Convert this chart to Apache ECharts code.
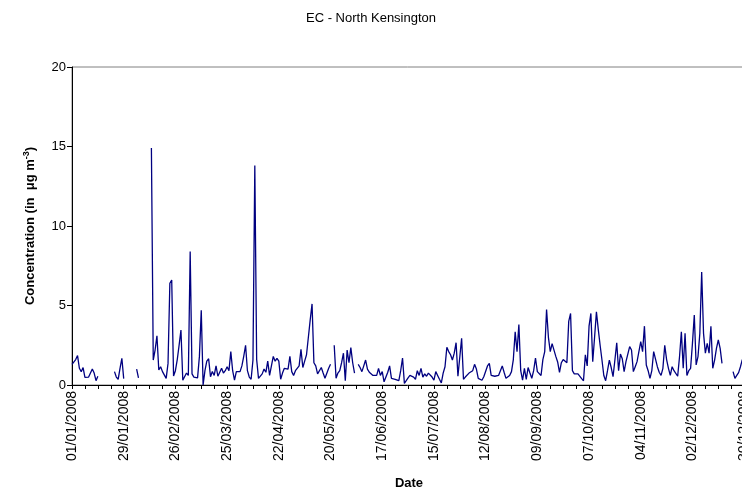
<!DOCTYPE html>
<html>
<head>
<meta charset="utf-8">
<script src="https://cdn.jsdelivr.net/npm/echarts@6/dist/echarts.min.js"></script>
<style>html,body{margin:0;padding:0;background:#fff;}#c{width:742px;height:491px;}</style>
</head>
<body>
<div id="c"></div>
<script>
// Daily EC concentration, 01/01/2008 .. 31/12/2008 (null = no data)
var startDate = [2008, 0, 1];
var dayCount = 366;
var ecValues = [
1.3,1.4,1.6,1.85,1.05,0.84,1.1,0.48,0.55,0.5,0.6,1.0,0.75,0.27,0.55,
null,null,null,null,null,null,null,null,
0.84,0.5,0.36,1.05,1.68,0.4,
null,null,null,null,null,null,
1.0,0.45,
null,null,null,null,null,null,
14.9,1.57,2.2,3.1,0.94,1.15,0.84,0.94,0.42,1.36,6.4,6.6,0.57,0.9,1.6,2.5,3.46,0.3,0.2,0.75,0.6,8.4,
0.7,0.5,0.5,0.45,1.8,4.7,0,0.9,1.5,1.65,0.52,0.85,0.6,1.2,0.55,0.5,1.05,0.75,0.9,1.15,0.9,2.1,0.9,0.3,0.84,
0.9,0.84,1.2,1.8,2.5,0.9,0.5,0.36,1.57,13.8,1.6,0.42,0.5,0.7,1.0,0.8,1.5,0.6,1.2,1.8,1.5,1.68,1.5,0.36,
0.75,1.05,1.0,1.0,1.8,0.84,0.6,0.9,1.0,1.2,2.24,1.1,1.5,1.9,3.0,4.1,5.1,1.4,1.2,0.7,0.75,1.1,0.75,0.42,0.5,1.05,1.3,
null,
2.5,0.42,0.75,0.9,1.4,2.0,0.27,2.2,1.4,2.35,1.4,0.75,
null,
1.3,1.1,0.84,1.2,1.57,1.0,0.8,0.84,0.6,0.5,0.6,1.05,0.6,0.84,0.2,0.5,0.8,1.2,0.42,0.5,0.36,0.4,0.27,0.9,1.7,
0.1,0.27,0.45,0.6,0.55,0.5,0.36,0.9,0.6,1.05,0.5,0.7,0.55,0.75,0.65,0.5,0.3,0.84,0.6,0.36,0.13,0.75,1.15,
2.37,2.1,1.9,1.57,2.0,2.66,0.55,0.55,2.94,0.36,0.5,0.6,0.75,0.85,0.9,1.3,1.0,0.42,0.35,0.3,0.52,0.6,
1.2,1.36,0.6,0.5,0.55,0.55,0.6,0.5,1.2,0.8,0.42,0.5,0.6,0.84,1.6,3.35,2.1,3.8,0.9,0.3,1.05,0.35,1.1,0.75,0.42,0.9,
1.7,0.84,0.8,0.6,1.6,2.1,4.75,3.0,2.1,2.6,2.7,1.8,1.45,0.8,1.4,1.6,1.7,1.4,4.0,4.5,0.9,
0.7,0.6,0.7,0.7,0.4,0.27,1.9,1.2,3.7,4.5,1.47,3.0,4.6,3.5,2.5,1.57,0.6,0.27,0.9,1.57,1.1,0.52,1.57,2.66,0.9,
1.95,1.65,0.84,1.47,1.57,2.41,2.2,0.84,1.15,1.47,1.57,2.73,2.1,3.7,1.26,0.9,0.42,0.9,
2.1,2.0,1.15,0.8,0.6,1.05,2.5,1.6,1.05,0.6,1.15,0.9,0.84,0.55,1.78,3.35,1.05,3.25,0.6,0.9,1.05,2.62,4.4,1.26,
1.78,3.25,7.1,3.25,2.0,2.62,2.0,3.7,1.05,1.57,2.3,2.83,2.3,1.36,
null,null,null,null,null,
0.84,0.42,0.6,0.78,1.15,1.6,1.7,1.6
];
var yTicks = [0, 5, 10, 15, 20];

function pad(n){ return (n < 10 ? '0' : '') + n; }
var dates = [];
for (var i = 0; i < dayCount; i++) {
  var d = new Date(startDate[0], startDate[1], startDate[2] + i);
  dates.push(pad(d.getDate()) + '/' + pad(d.getMonth() + 1) + '/' + d.getFullYear());
}

var FONT = '"Liberation Sans", Arial, sans-serif';
var chart = echarts.init(document.getElementById('c'), null, {renderer: 'canvas'});
chart.setOption({
  animation: false,
  backgroundColor: '#fff',
  title: {
    text: 'EC - North Kensington',
    left: 'center',
    top: 7,
    textStyle: {fontFamily: FONT, fontSize: 13, fontWeight: 'normal', color: '#000'}
  },
  grid: {
    left: 72, top: 67, width: 674, height: 318,
    containLabel: false, outerBoundsMode: 'none',
    show: true, borderColor: '#808080', borderWidth: 1
  },
  xAxis: {
    type: 'category',
    data: dates,
    boundaryGap: false,
    name: 'Date',
    nameLocation: 'middle',
    nameGap: 92,
    nameTextStyle: {fontFamily: FONT, fontSize: 13, fontWeight: 'bold', color: '#000'},
    axisLine: {lineStyle: {color: '#000', width: 1}},
    axisTick: {show: true, interval: 6, length: 4, lineStyle: {color: '#000'}},
    axisLabel: {interval: 27, rotate: 90, fontFamily: FONT, fontSize: 14, color: '#000', margin: 6, hideOverlap: false},
    splitLine: {show: false}
  },
  yAxis: {
    type: 'value',
    min: yTicks[0],
    max: yTicks[yTicks.length - 1],
    interval: yTicks[1] - yTicks[0],
    name: 'Concentration (in  μg m{sup|-3})',
    nameLocation: 'middle',
    nameGap: 33,
    nameTextStyle: {
      fontFamily: FONT, fontSize: 13, fontWeight: 'bold', color: '#000',
      rich: {sup: {fontFamily: FONT, fontSize: 9, fontWeight: 'bold', color: '#000', verticalAlign: 'top', padding: [0, 0, 8, 0]}}
    },
    axisLine: {show: true, lineStyle: {color: '#000', width: 1}},
    axisTick: {show: true, length: 5, lineStyle: {color: '#000'}},
    axisLabel: {fontFamily: FONT, fontSize: 13, color: '#000', margin: 6},
    splitLine: {show: false}
  },
  series: [{
    type: 'line',
    data: ecValues,
    symbol: 'none',
    connectNulls: false,
    lineStyle: {color: '#000080', width: 1.3},
    itemStyle: {color: '#000080'}
  }]
});
</script>
</body>
</html>
